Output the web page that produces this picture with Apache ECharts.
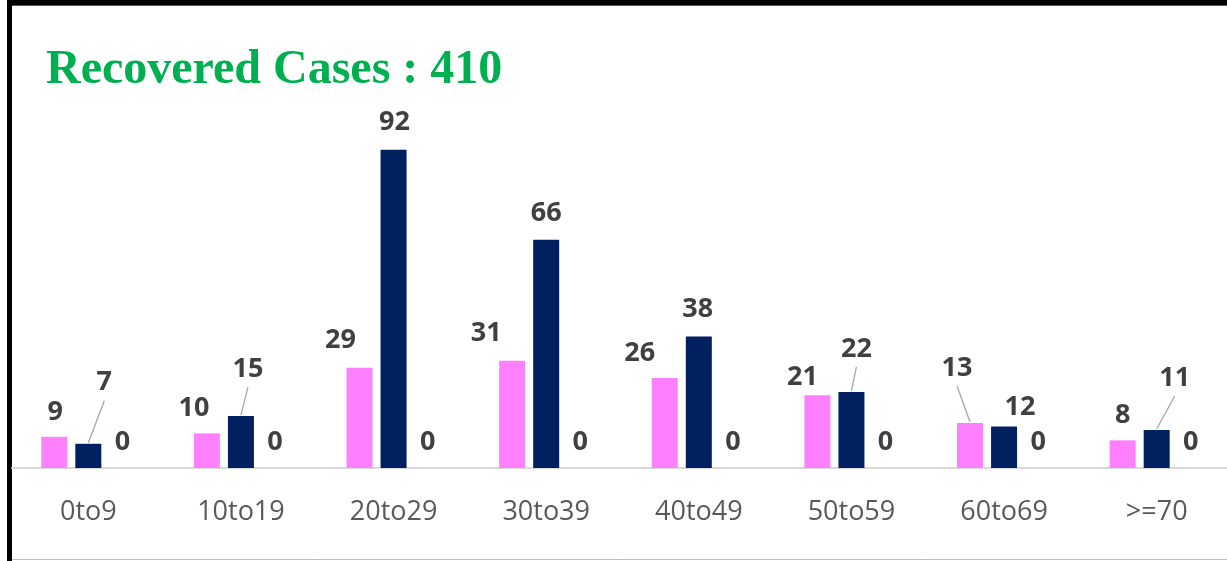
<!DOCTYPE html>
<html>
<head>
<meta charset="utf-8">
<title>Recovered Cases</title>
<script src="https://cdn.jsdelivr.net/npm/echarts@6/dist/echarts.min.js"></script>
<style>
    html, body { margin: 0; padding: 0; background: #fff; }
    #chart { width: 1227px; height: 561px; }
</style>
</head>
<body>
<div id="chart"></div>
<script>
const ageGroups = ['0to9', '10to19', '20to29', '30to39', '40to49', '50to59', '60to69', '>=70'];
const pinkValues = [9, 10, 29, 31, 26, 21, 13, 8];
const navyValues = [7, 15, 92, 66, 38, 22, 12, 11];
const thirdValues = [0, 0, 0, 0, 0, 0, 0, 0];
const totalRecovered = 410;

// label placement: [dx from bar centre, rise of label centre above bar top]
const pinkLabelPos = [[1, 25], [-13, 25], [-19, 27], [-26, 27], [-25, 25], [-15, 18], [-13, 55], [0, 25]];
const navyLabelPos = [[16, 61], [7, 47], [1, 27], [0, 26], [-1, 27], [5, 43], [16, 19], [18, 52]];
const thirdLabelPos = [[0, 26], [0, 26], [0, 26], [0, 26], [0, 26], [0, 26], [0, 26], [0, 26]];
// which labels get a leader line
const pinkLeader = [false, false, false, false, false, false, true, false];
const navyLeader = [true, true, false, false, false, true, false, true];

const BAR_W = 26;
const BAR_GAP = 0.31;

function makeSeries(name, values, color, pos) {
    return {
        type: 'bar',
        name: name,
        barWidth: BAR_W,
        barGap: (BAR_GAP * 100) + '%',
        itemStyle: { color: color },
        data: values,
        label: {
            show: true,
            position: 'top',
            color: '#404040',
            fontFamily: 'Open Sans',
            fontWeight: 'bold',
            fontSize: 27
        },
        labelLayout: function (p) {
            const d = pos[p.dataIndex];
            return {
                x: p.rect.x + p.rect.width / 2 + d[0],
                y: p.rect.y - d[1],
                align: 'center',
                verticalAlign: 'middle'
            };
        }
    };
}

// leader lines: [category, value, bar slot (-1 pink, 0 navy), dx, rise]
const leaderData = [];
pinkLeader.forEach(function (on, i) {
    if (on) leaderData.push([i, pinkValues[i], -1, pinkLabelPos[i][0], pinkLabelPos[i][1]]);
});
navyLeader.forEach(function (on, i) {
    if (on) leaderData.push([i, navyValues[i], 0, navyLabelPos[i][0], navyLabelPos[i][1]]);
});

const chart = echarts.init(document.getElementById('chart'));

const option = {
    animation: false,
    backgroundColor: '#fff',
    title: {
        text: 'Recovered Cases : ' + totalRecovered,
        left: 46,
        top: 47,
        padding: 0,
        textStyle: {
            color: '#00b050',
            fontFamily: 'Liberation Serif',
            fontWeight: 'bold',
            fontSize: 48
        }
    },
    grid: {
        left: 12,
        top: 122,
        bottom: 93,
        width: 1221,
        outerBoundsMode: 'none',
        containLabel: false
    },
    xAxis: {
        type: 'category',
        data: ageGroups,
        axisLine: { lineStyle: { color: '#d9d9d9', width: 2 } },
        axisTick: { show: false },
        axisLabel: {
            color: '#595959',
            fontFamily: 'Open Sans',
            fontSize: 27,
            margin: 31
        }
    },
    yAxis: {
        type: 'value',
        show: false,
        min: 0,
        max: 100,
        splitLine: { show: false }
    },
    series: [
        makeSeries('A', pinkValues, '#ff80ff', pinkLabelPos),
        makeSeries('B', navyValues, '#002060', navyLabelPos),
        makeSeries('C', thirdValues, '#a5a5a5', thirdLabelPos),
        {
            type: 'custom',
            silent: true,
            data: leaderData,
            encode: { x: 0, y: 1 },
            renderItem: function (params, api) {
                const top = api.coord([api.value(0), api.value(1)]);
                const step = BAR_W * (1 + BAR_GAP);
                const x = top[0] + api.value(2) * step;
                const y = top[1];
                return {
                    type: 'line',
                    shape: { x1: x, y1: y - 1, x2: x + api.value(3), y2: y - api.value(4) + 18 },
                    style: { stroke: '#a6a6a6', lineWidth: 1.3 }
                };
            }
        }
    ],
    graphic: [
        { type: 'line', shape: { x1: 7, y1: 2.5, x2: 1227, y2: 2.5 }, style: { stroke: '#000', lineWidth: 5 } },
        { type: 'line', shape: { x1: 7, y1: 5.5, x2: 1227, y2: 5.5 }, style: { stroke: '#595959', lineWidth: 1 } },
        { type: 'line', shape: { x1: 9.5, y1: 0, x2: 9.5, y2: 561 }, style: { stroke: '#000', lineWidth: 5 } },
        { type: 'line', shape: { x1: 12, y1: 559.5, x2: 1227, y2: 559.5 }, style: { stroke: '#bfbfbf', lineWidth: 1 } }
    ]
};

chart.setOption(option);
</script>
</body>
</html>
